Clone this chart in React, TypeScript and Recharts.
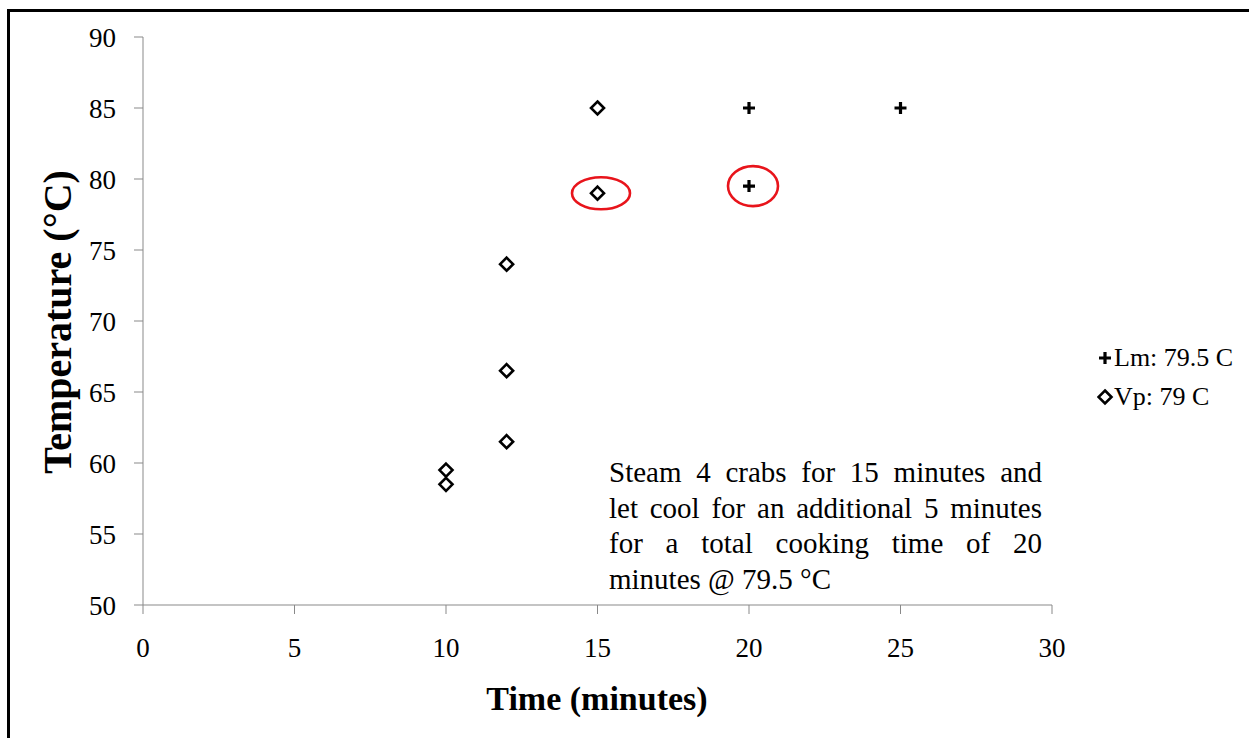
import { ScatterChart, Scatter, XAxis, YAxis, ReferenceDot } from "recharts";

// Listeria monocytogenes (plus) and Vibrio parahaemolyticus (diamond)
const lmTime = [20, 25, 20];
const lmTemp = [85, 85, 79.5];
const vpTime = [15, 15, 12, 12, 12, 10, 10];
const vpTemp = [85, 79, 74, 66.5, 61.5, 59.5, 58.5];

const xTicks = [0, 5, 10, 15, 20, 25, 30];
const yTicks = [50, 55, 60, 65, 70, 75, 80, 85, 90];

const highlightTime = [15, 20];
const highlightTemp = [79, 79.5];

const seriesNames = ["Lm: 79.5 C", "Vp: 79 C"];
const noteLines = [
  "Steam 4 crabs for 15 minutes and",
  "let cool for an additional 5 minutes",
  "for a total cooking time of 20",
  "minutes @ 79.5 °C",
];

const lmData = lmTime.map((x, i) => ({ x, y: lmTemp[i] }));
const vpData = vpTime.map((x, i) => ({ x, y: vpTemp[i] }));

const FONT = "'Liberation Serif', 'Times New Roman', serif";
const AXIS = "#898989";

const Plus = (props: any) => {
  const { cx, cy } = props;
  return (
    <path
      d={`M${cx - 6},${cy}H${cx + 6}M${cx},${cy - 6}V${cy + 6}`}
      stroke="#000"
      strokeWidth={3.2}
      fill="none"
    />
  );
};

const Diamond = (props: any) => {
  const { cx, cy } = props;
  const r = 6.5;
  return (
    <path
      d={`M${cx},${cy - r}L${cx + r},${cy}L${cx},${cy + r}L${cx - r},${cy}Z`}
      fill="#fff"
      stroke="#000"
      strokeWidth={2.6}
    />
  );
};

// ellipse sizes for the two red circles
const ringStyle = [
  { dx: 3.5, rx: 29, ry: 16 },
  { dx: 4, rx: 25, ry: 20 },
];

export default function App() {
  return (
    <div
      style={{
        position: "absolute",
        left: 0,
        top: 0,
        width: 1249,
        height: 738,
        background: "#fff",
        overflow: "hidden",
        fontFamily: FONT,
      }}
    >
      <div
        style={{
          position: "absolute",
          left: 7,
          top: 9,
          width: 1300,
          height: 800,
          borderLeft: "3px solid #000",
          borderTop: "3px solid #000",
        }}
      />
      <div style={{ position: "absolute", left: 0, top: 0 }}>
        <ScatterChart
          width={1249}
          height={738}
          margin={{ top: 37, right: 197, bottom: 0, left: 0 }}
        >
          <XAxis
            type="number"
            dataKey="x"
            domain={[0, 30]}
            ticks={xTicks}
            height={133}
            stroke={AXIS}
            tickSize={9}
            tickMargin={24}
            tick={{ fill: "#000", fontSize: 27, fontFamily: FONT }}
          />
          <YAxis
            type="number"
            dataKey="y"
            domain={[50, 90]}
            ticks={yTicks}
            width={143}
            stroke={AXIS}
            tickSize={9}
            tickMargin={18}
            tick={{ fill: "#000", fontSize: 27, fontFamily: FONT }}
          />
          <Scatter name={seriesNames[0]} data={lmData} shape={Plus} isAnimationActive={false} />
          <Scatter name={seriesNames[1]} data={vpData} shape={Diamond} isAnimationActive={false} />
          {highlightTime.map((t, i) => (
            <ReferenceDot
              key={i}
              x={t}
              y={highlightTemp[i]}
              shape={(p: any) => (
                <ellipse
                  cx={p.cx + ringStyle[i].dx}
                  cy={p.cy}
                  rx={ringStyle[i].rx}
                  ry={ringStyle[i].ry}
                  fill="none"
                  stroke="#e8141b"
                  strokeWidth={2.6}
                />
              )}
            />
          ))}
        </ScatterChart>
      </div>

      {/* axis titles */}
      <div
        style={{
          position: "absolute",
          left: 597,
          top: 699,
          transform: "translate(-50%, -50%)",
          fontSize: 34,
          fontWeight: "bold",
          whiteSpace: "nowrap",
        }}
      >
        Time (minutes)
      </div>
      <div
        style={{
          position: "absolute",
          left: 57,
          top: 322,
          transform: "translate(-50%, -50%) rotate(-90deg)",
          fontSize: 40,
          fontWeight: "bold",
          whiteSpace: "nowrap",
        }}
      >
        Temperature (°C)
      </div>

      {/* legend */}
      <div style={{ position: "absolute", left: 1097, top: 338, fontSize: 26, lineHeight: "39px" }}>
        {seriesNames.map((name, i) => (
          <div key={name} style={{ display: "flex", alignItems: "center", whiteSpace: "nowrap" }}>
            <svg width={17} height={18} style={{ marginRight: 0 }}>
              {i === 0 ? <Plus cx={8} cy={9} /> : <Diamond cx={8} cy={9} />}
            </svg>
            {name}
          </div>
        ))}
      </div>

      {/* note */}
      <div
        style={{
          position: "absolute",
          left: 609,
          top: 455,
          width: 433,
          fontSize: 29,
          lineHeight: "35.7px",
          color: "#000",
        }}
      >
        {noteLines.map((line, i) => (
          <div
            key={i}
            style={{
              textAlign: "justify",
              textAlignLast: i < noteLines.length - 1 ? "justify" : "left",
              whiteSpace: "nowrap",
            }}
          >
            {line}
          </div>
        ))}
      </div>
    </div>
  );
}
